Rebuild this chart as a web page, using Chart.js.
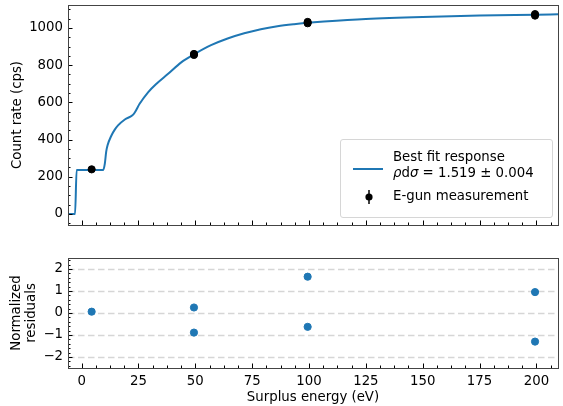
<!DOCTYPE html>
<html lang="en">
<head>
<meta charset="UTF-8">
<title>E-gun response fit</title>
<script src="https://cdn.jsdelivr.net/npm/chart.js"></script>
<style>
  body { margin: 0; background: #fff; font-family: "DejaVu Sans", sans-serif; }
  .wrap { position: relative; width: 563px; height: 406px; }
  #top { position: absolute; left: 0; top: 0; }
  #bot { position: absolute; left: 0; top: 240px; }
  .legend { position: absolute; left: 340px; top: 139px; width: 211px; height: 77px;
            border: 1px solid #d6d6d6; border-radius: 3px; background: rgba(255,255,255,0.8);
            font-size: 13.3px; line-height: 16px; color: #000; }
  .legend .lt { position: absolute; left: 52px; white-space: nowrap; }
  .legend .ln { position: absolute; left: 12px; top: 28px; width: 30px; height: 2px; background: #1f77b4; }
  .legend svg { position: absolute; left: 21px; top: 48px; }
</style>
</head>
<body>
<div class="wrap">
  <canvas id="top" width="563" height="240"></canvas>
  <canvas id="bot" width="563" height="166"></canvas>
  <div class="legend">
    <div class="ln"></div>
    <div class="lt" style="top:9px">Best fit response</div>
    <div class="lt" style="top:25px"><i>ρ</i>d<i>σ</i> = 1.519 ± 0.004</div>
    <svg width="14" height="18"><line x1="7" y1="2" x2="7" y2="16" stroke="#000" stroke-width="1.5"/><circle cx="7" cy="9" r="3.6" fill="#000"/></svg>
    <div class="lt" style="top:48px">E-gun measurement</div>
  </div>
</div>
<script>
// fitted response curve
const fitE    = [-6, -2.9, -2.2, 9.5, 10.2, 10.8, 11.4, 13.1, 14.5, 16.0, 19.0, 22.2, 23.3, 25.5, 29.2, 32.8, 37.9, 43.8, 49.3, 56.9, 64.2, 71.5, 78.8, 86.1, 93.4, 99.3, 106.6, 125, 150, 175, 200, 209.5];
const fitRate = [0, 0, 237, 237, 271, 335, 369, 422, 452, 476, 508, 529, 544, 592, 654, 699, 752, 815, 857, 907, 943, 971, 993, 1009, 1020, 1027, 1034, 1048, 1059, 1066, 1071, 1073];

// e-gun measurements
const measE    = [4.4, 49.4, 49.4, 99.4, 99.4, 199.4, 199.4];
const measRate = [240, 860, 855, 1032, 1025, 1074, 1066];
const measErr  = [4, 4, 4, 4, 4, 4, 4];

// normalized residuals
const resVal = [0.06, 0.25, -0.89, 1.65, -0.63, 0.95, -1.3];

// tick labels
const energyTicks = [0, 25, 50, 75, 100, 125, 150, 175, 200];
const rateTicks = [0, 200, 400, 600, 800, 1000];
const resTicks = [-2, -1, 0, 1, 2];

const BLUE = '#1f77b4';
const FONT = { family: 'DejaVu Sans', size: 13.3 };

function fixWidth(w) {
  return s => { s.width = w; s.paddingTop = s.paddingBottom = s.paddingLeft = s.paddingRight = 0; };
}
function fixHeight(h) {
  return s => { s.height = h; s.paddingTop = s.paddingBottom = s.paddingLeft = s.paddingRight = 0; };
}

// frame + inward ticks, matplotlib style
const axisDeco = {
  id: 'axisDeco',
  afterDraw(chart, args, o) {
    const { ctx, chartArea: a, scales: { x, y } } = chart;
    ctx.save();
    ctx.strokeStyle = '#000';
    ctx.lineWidth = 1;
    const steps = (sc, st) => {
      const out = [];
      for (let v = Math.ceil(sc.min / st) * st; v <= sc.max + 1e-9; v += st) out.push(v);
      return out;
    };
    ctx.beginPath();
    steps(x, o.xMinor).forEach(v => {
      const px = Math.round(x.getPixelForValue(v)) + 0.5;
      const len = Math.abs(v / o.xMajor - Math.round(v / o.xMajor)) < 1e-6 ? 4.5 : 2.5;
      ctx.moveTo(px, a.bottom); ctx.lineTo(px, a.bottom - len);
    });
    steps(y, o.yMinor).forEach(v => {
      const py = Math.round(y.getPixelForValue(v)) + 0.5;
      const len = Math.abs(v / o.yMajor - Math.round(v / o.yMajor)) < 1e-6 ? 4.5 : 2.5;
      ctx.moveTo(a.left, py); ctx.lineTo(a.left + len, py);
    });
    ctx.stroke();
    ctx.strokeStyle = '#444';
    ctx.strokeRect(Math.round(a.left) + 0.5, Math.round(a.top) + 0.5,
                   Math.round(a.right - a.left), Math.round(a.bottom - a.top));
    ctx.restore();
  }
};

// vertical error bars on the measurements
const errBars = {
  id: 'errBars',
  afterDatasetsDraw(chart) {
    const { ctx, scales: { x, y } } = chart;
    ctx.save();
    ctx.strokeStyle = '#000';
    ctx.lineWidth = 1.5;
    ctx.beginPath();
    measE.forEach((e, i) => {
      const px = x.getPixelForValue(e);
      ctx.moveTo(px, y.getPixelForValue(measRate[i] - measErr[i]));
      ctx.lineTo(px, y.getPixelForValue(measRate[i] + measErr[i]));
    });
    ctx.stroke();
    ctx.restore();
  }
};

// dashed reference lines on the residual panel
const resGrid = {
  id: 'resGrid',
  beforeDatasetsDraw(chart) {
    const { ctx, chartArea: a, scales: { y } } = chart;
    ctx.save();
    ctx.strokeStyle = '#d6d6d6';
    ctx.lineWidth = 1.5;
    ctx.setLineDash([6.5, 3.5]);
    resTicks.forEach(v => {
      const py = Math.round(y.getPixelForValue(v)) + 0.5;
      ctx.beginPath();
      ctx.moveTo(a.left, py); ctx.lineTo(a.right, py);
      ctx.stroke();
    });
    ctx.restore();
  }
};

new Chart(document.getElementById('top'), {
  type: 'line',
  data: {
    datasets: [
      {
        label: 'Best fit response',
        data: fitE.map((e, i) => ({ x: e, y: fitRate[i] })),
        borderColor: BLUE, borderWidth: 2, pointRadius: 0, tension: 0.3,
        cubicInterpolationMode: 'monotone', fill: false, order: 2
      },
      {
        type: 'scatter',
        label: 'E-gun measurement',
        data: measE.map((e, i) => ({ x: e, y: measRate[i] })),
        backgroundColor: '#000', borderColor: '#000', pointRadius: 3.6, order: 1
      }
    ]
  },
  options: {
    responsive: false,
    animation: false,
    layout: { padding: { left: 0, right: 3, top: 4, bottom: 15 } },
    plugins: {
      legend: { display: false },
      tooltip: { enabled: false },
      axisDeco: { xMajor: 25, xMinor: 6.25, yMajor: 200, yMinor: 50 }
    },
    scales: {
      x: {
        type: 'linear', min: -6, max: 209.5,
        ticks: { display: false },
        grid: { display: false, drawTicks: false },
        border: { display: false },
        afterFit: fixHeight(0)
      },
      y: {
        min: -59, max: 1123,
        afterBuildTicks: s => { s.ticks = rateTicks.map(v => ({ value: v })); },
        ticks: { font: FONT, color: '#000', padding: 5, callback: v => String(v) },
        grid: { display: false, drawTicks: false },
        border: { display: false },
        title: { display: true, text: 'Count rate (cps)', font: FONT, color: '#000', padding: { top: 10, bottom: 0 } },
        afterFit: fixWidth(68)
      }
    }
  },
  plugins: [axisDeco, errBars]
});

new Chart(document.getElementById('bot'), {
  type: 'scatter',
  data: {
    datasets: [{
      label: 'Residuals',
      data: measE.map((e, i) => ({ x: e, y: resVal[i] })),
      backgroundColor: BLUE, borderColor: BLUE, pointRadius: 3.6
    }]
  },
  options: {
    responsive: false,
    animation: false,
    layout: { padding: { left: 0, right: 3, top: 18, bottom: 0 } },
    plugins: {
      legend: { display: false },
      tooltip: { enabled: false },
      axisDeco: { xMajor: 25, xMinor: 6.25, yMajor: 1, yMinor: 0.2 }
    },
    scales: {
      x: {
        type: 'linear', min: -6, max: 209.5,
        afterBuildTicks: s => { s.ticks = energyTicks.map(v => ({ value: v })); },
        ticks: { font: FONT, color: '#000', padding: 6, maxRotation: 0, autoSkip: false, callback: v => String(v) },
        grid: { display: false, drawTicks: false },
        border: { display: false },
        title: { display: true, text: 'Surplus energy (eV)', font: FONT, color: '#000', padding: { top: 0, bottom: 0 } },
        afterFit: fixHeight(38)
      },
      y: {
        min: -2.5, max: 2.5,
        afterBuildTicks: s => { s.ticks = resTicks.map(v => ({ value: v })); },
        ticks: {
          font: FONT, color: '#000', padding: 5,
          callback: v => (v < 0 ? '\u2212' + Math.abs(v) : String(v))
        },
        grid: { display: false, drawTicks: false },
        border: { display: false },
        title: {
          display: true, text: ['Normalized', 'residuals'],
          font: { family: 'DejaVu Sans', size: 13.3, lineHeight: 1.15 },
          color: '#000', padding: { top: 9, bottom: 0 }
        },
        afterFit: fixWidth(68)
      }
    }
  },
  plugins: [resGrid, axisDeco]
});
</script>
</body>
</html>
